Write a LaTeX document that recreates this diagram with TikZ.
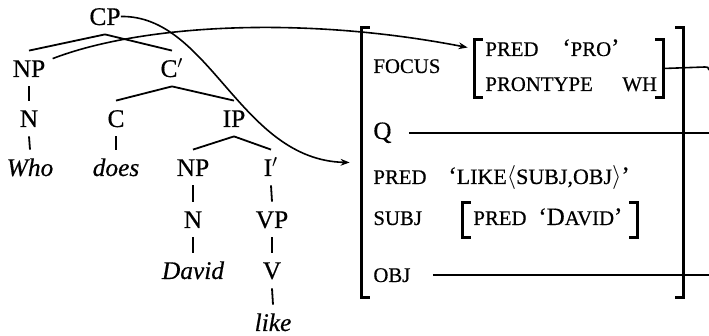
\documentclass[tikz,border=0pt]{standalone}
\usepackage{fontspec}
\setmainfont{Liberation Serif}[UprightFeatures={FakeBold=0.5},ItalicFeatures={FakeBold=0.5}]
\usetikzlibrary{arrows.meta,calc}
\newcommand\fsc[1]{{\fontsize{10.4}{12}\selectfont #1}}
\begin{document}
\begin{tikzpicture}[x=0.5pt,y=-0.5pt,
  tn/.style={anchor=base,inner xsep=0pt,inner ysep=4.5pt,text height=8.5pt,text depth=0pt,font=\fontsize{12.7}{15}\selectfont},
  av/.style={anchor=base west,inner sep=0pt,font=\fontsize{12.5}{15}\selectfont},
  region/.style={inner sep=0pt,draw=none},
  br/.style={line width=1.3pt},
  edge/.style={line width=0.9pt},
  link/.style={line width=0.8pt},
  tip/.style={-{Stealth[length=4.5pt,width=3.4pt]}}]
\useasboundingbox (0,0) rectangle (709,336);
% tree
\node[tn] (CP) at (105,25) {CP};
\node[tn] (NPa) at (29,77) {NP};
\node[tn] (Cb) at (172,77) {C$'$};
\node[tn] (Na) at (29,127) {N};
\node[tn] (C) at (116,127) {C};
\node[tn] (IP) at (234,127) {IP};
\node[tn] (who) at (30,176) {\itshape Who};
\node[tn] (does) at (116,176) {\itshape does};
\node[tn] (NPb) at (193,176) {NP};
\node[tn] (Ib) at (271,176) {I$'$};
\node[tn] (Nb) at (193,228) {N};
\node[tn] (VP) at (272,228) {VP};
\node[tn] (david) at (193,279) {\itshape David};
\node[tn] (V) at (272,279) {V};
\node[tn] (likew) at (273,331) {\itshape like};
\draw[edge] (CP.south) -- (NPa.north);
\draw[edge] (CP.south) -- (Cb.north);
\draw[edge] (NPa.south) -- (Na.north);
\draw[edge] (Na.south) -- (who.north);
\draw[edge] (Cb.south) -- (C.north);
\draw[edge] (Cb.south) -- (IP.north);
\draw[edge] (C.south) -- (does.north);
\draw[edge] (IP.south) -- (NPb.north);
\draw[edge] (IP.south) -- (Ib.north);
\draw[edge] (NPb.south) -- (Nb.north);
\draw[edge] (Nb.south) -- (david.north);
\draw[edge] (Ib.south) -- (VP.north);
\draw[edge] (VP.south) -- (V.north);
\draw[edge] (V.south) -- (likew.north);
% f-structure regions
\node[region,minimum width=160.5pt,minimum height=134.5pt] (fs) at (522.5,162.5) {};
\node[region,minimum width=94pt,minimum height=28.5pt] (fv) at (569,68.5) {};
\node[region,minimum width=87pt,minimum height=17pt] (sv) at (550,220) {};
\foreach \b in {fs,fv,sv}{
  \draw[br] ([xshift=4pt]\b.north west) -| (\b.south west) -- ++(8,0);
  \draw[br] ([xshift=-4pt]\b.north east) -| (\b.south east) -- ++(-8,0);
}
% f-structure text
\node[av] (focus) at (373,73) {\fsc{FOCUS}};
\node[av] (predA) at (485,56) {\fsc{PRED}};
\node[av] (pro) at (562,56) {`\fsc{PRO}'};
\node[av] (prontype) at (485,91) {\fsc{PRONTYPE}};
\node[av] (wh) at (622,91) {\fsc{WH}};
\node[av] (q) at (373,139) {Q};
\node[av] (predB) at (373,184) {\fsc{PRED}};
\node[av] (likev) at (448,184) {`{\fontsize{11}{12}\selectfont LIKE}$\langle${\fontsize{11}{12}\selectfont SUBJ,OBJ}$\rangle$'};
\node[av] (subj) at (373,225) {\fsc{SUBJ}};
\node[av] (predC) at (473,225) {\fsc{PRED}};
\node[av] (davidv) at (538,225) {`D\fsc{AVID}'};
\node[av] (obj) at (373,282) {\fsc{OBJ}};
% lines leaving to the right
\coordinate (rim) at (709,0);
\coordinate (endA) at (709,70);
\draw[link] (fv.east) -- (705,67) .. controls (708,67) .. (endA);
\draw[link] ([xshift=8.5pt]q.east) -- (q.east -| rim);
\draw[link] ([xshift=11pt]obj.east) -- (obj.east -| rim);
% arrows from the tree
\draw[link,tip] ([xshift=3.5pt,yshift=-4pt]NPa.north east) .. controls (140,25) and (300,15) .. ($(fv.west)+(-7,-21)$);
\draw[link,tip] (CP.east) .. controls (210,15) and (240,160) .. ($(fs.west)+(-12,0)$);
\end{tikzpicture}
\end{document}
